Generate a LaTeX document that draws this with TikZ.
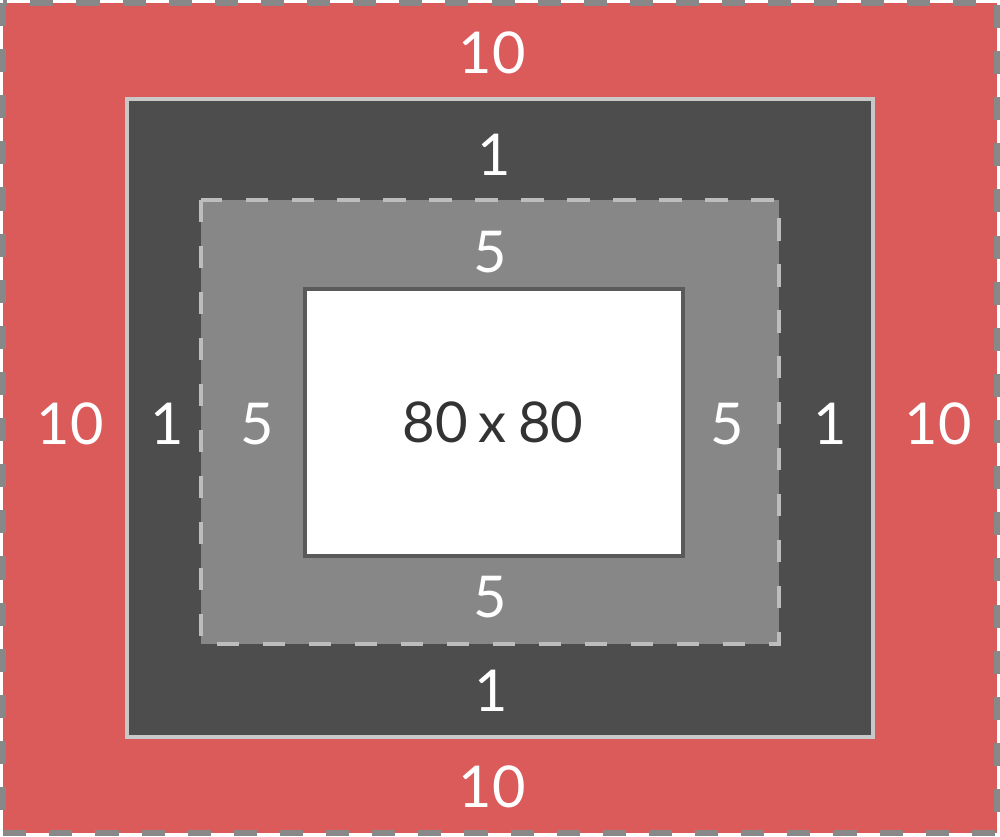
\documentclass[tikz,border=0pt]{standalone}
\usepackage{fontspec}
\setmainfont{Lato}
\usepackage{tikz}
\definecolor{MarginRed}{HTML}{DB5B5B}
\definecolor{MarginDash}{HTML}{888888}
\definecolor{BorderDark}{HTML}{4D4D4D}
\definecolor{BorderLine}{HTML}{C8C8C8}
\definecolor{PaddingGray}{HTML}{878787}
\definecolor{PaddingDash}{HTML}{BDBDBD}
\definecolor{ContentLine}{HTML}{5A5A5A}
\definecolor{ContentText}{HTML}{333333}

\begin{document}
\begin{tikzpicture}[x=0.025cm,y=-0.025cm,
    size/.style={text=white,inner sep=0pt,font=\fontsize{41}{41}\selectfont}]
      \useasboundingbox (0,0) rectangle (1000,836);
      \fill[white] (0,0) rectangle (1000,836);
      % margin
      \draw[MarginDash,fill=MarginRed,line width=4.3pt,dash pattern=on 16.4pt off 16.4pt] (3,3) rectangle (997,833);
      % border
      \draw[BorderLine,fill=BorderDark,line width=2.6pt] (127,99) rectangle (873,737);
      % padding
      \fill[PaddingGray] (201,200) rectangle (779,644);
      \draw[PaddingDash,line width=2.8pt,dash pattern=on 15.8pt off 16.9pt] (201,200) rectangle (779,644);
      % content
      \draw[ContentLine,fill=white,line width=2.4pt] (305,289) rectangle (683,556);
      \node[size,text=ContentText,font=\fontsize{40}{40}\selectfont] (content) at (493,422) {80\hspace{-0.06em} x\hspace{-0.06em} 80};
      \node[size] (mtop) at (492,53) {10};
      \node[size] (mbottom) at (492,787) {10};
      \node[size] (mleft) at (70,424) {10};
      \node[size] (mright) at (938,424) {10};
      \node[size] (btop) at (494,155) {1};
      \node[size] (bbottom) at (491,691) {1};
      \node[size] (bleft) at (167,424) {1};
      \node[size] (bright) at (830,424) {1};
      \node[size] (ptop) at (490,252) {5};
      \node[size] (pbottom) at (490,597) {5};
      \node[size] (pleft) at (257,424) {5};
      \node[size] (pright) at (727,424) {5};
    \end{tikzpicture}
\end{document}
